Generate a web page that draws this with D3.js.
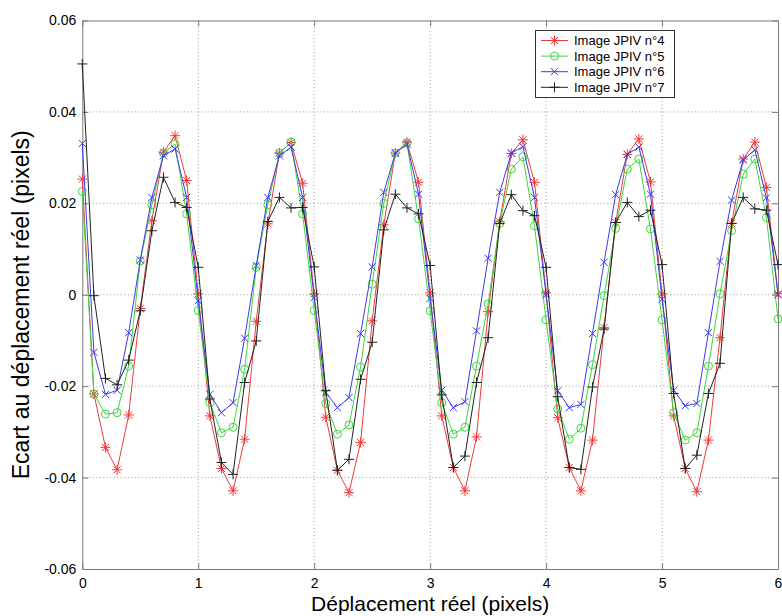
<!DOCTYPE html>
<html>
<head>
<meta charset="utf-8">
<script src="https://cdn.jsdelivr.net/npm/d3@7"></script>
<style>
html,body{margin:0;padding:0;background:#fff;}
svg{display:block;}
text{font-family:"Liberation Sans",Arial,sans-serif;}
</style>
</head>
<body>
<svg id="chart" width="782" height="616"></svg>
<script>
// ---- data ----
const displacement = [0,0.1,0.2,0.3,0.4,0.5,0.6,0.7,0.8,0.9,1,1.1,1.2,1.3,1.4,1.5,1.6,1.7,1.8,1.9,2,2.1,2.2,2.3,2.4,2.5,2.6,2.7,2.8,2.9,3,3.1,3.2,3.3,3.4,3.5,3.6,3.7,3.8,3.9,4,4.1,4.2,4.3,4.4,4.5,4.6,4.7,4.8,4.9,5,5.1,5.2,5.3,5.4,5.5,5.6,5.7,5.8,5.9,6];

const jpiv4 = [0.0253,-0.0217,-0.0334,-0.0383,-0.0263,-0.0030,0.0162,0.0312,0.0348,0.0250,
  0.0002,-0.0265,-0.0380,-0.0429,-0.0316,-0.0058,0.0155,0.0310,0.0333,0.0244,
  0.0002,-0.0268,-0.0384,-0.0433,-0.0323,-0.0057,0.0153,0.0310,0.0334,0.0246,
  0.0004,-0.0265,-0.0378,-0.0429,-0.0311,-0.0037,0.0160,0.0309,0.0339,0.0246,
  0.0004,-0.0269,-0.0378,-0.0429,-0.0318,-0.0072,0.0158,0.0307,0.0341,0.0247,
  0.0002,-0.0265,-0.0380,-0.0431,-0.0318,-0.0094,0.0156,0.0297,0.0334,0.0235,
  0.0002];
const jpiv5 = [0.0226,-0.0217,-0.0261,-0.0258,-0.0156,0.0074,0.0197,0.0310,0.0330,0.0177,
  -0.0034,-0.0236,-0.0302,-0.0290,-0.0163,0.0060,0.0197,0.0310,0.0334,0.0177,
  -0.0034,-0.0238,-0.0305,-0.0285,-0.0158,0.0023,0.0200,0.0310,0.0332,0.0166,
  -0.0035,-0.0236,-0.0305,-0.0290,-0.0156,-0.0020,0.0156,0.0275,0.0302,0.0151,
  -0.0055,-0.0250,-0.0316,-0.0292,-0.0153,-0.0002,0.0145,0.0275,0.0297,0.0144,
  -0.0055,-0.0258,-0.0318,-0.0302,-0.0156,0.0002,0.0140,0.0264,0.0297,0.0169,
  -0.0053];
const jpiv6 = [0.0331,-0.0126,-0.0218,-0.0209,-0.0083,0.0076,0.0213,0.0304,0.0319,0.0213,
  -0.0013,-0.0218,-0.0258,-0.0236,-0.0095,0.0064,0.0213,0.0304,0.0323,0.0213,
  -0.0006,-0.0214,-0.0247,-0.0225,-0.0085,0.0061,0.0224,0.0310,0.0329,0.0220,
  -0.0008,-0.0209,-0.0247,-0.0234,-0.0079,0.0080,0.0224,0.0310,0.0324,0.0213,
  0.0000,-0.0210,-0.0247,-0.0240,-0.0085,0.0071,0.0219,0.0307,0.0323,0.0220,
  -0.0010,-0.0209,-0.0243,-0.0238,-0.0083,0.0073,0.0207,0.0295,0.0317,0.0212,
  0.0000];
const jpiv7 = [0.0505,-0.0002,-0.0183,-0.0197,-0.0143,-0.0035,0.0140,0.0257,0.0202,0.0191,
  0.0060,-0.0228,-0.0367,-0.0393,-0.0192,-0.0101,0.0160,0.0213,0.0190,0.0191,
  0.0061,-0.0210,-0.0384,-0.0360,-0.0185,-0.0104,0.0142,0.0220,0.0190,0.0177,
  0.0064,-0.0219,-0.0378,-0.0353,-0.0192,-0.0094,0.0156,0.0219,0.0184,0.0173,
  0.0060,-0.0223,-0.0378,-0.0382,-0.0202,-0.0075,0.0158,0.0202,0.0171,0.0185,
  0.0066,-0.0216,-0.0380,-0.0351,-0.0216,-0.0150,0.0156,0.0213,0.0188,0.0185,
  0.0066];

const seriesNames = ["Image JPIV n°4","Image JPIV n°5","Image JPIV n°6","Image JPIV n°7"];
const xTicks = [0,1,2,3,4,5,6];
const yTicks = [-0.06,-0.04,-0.02,0,0.02,0.04,0.06];
const yTickLabels = ["-0.06","-0.04","-0.02","0","0.02","0.04","0.06"];
const xTickLabels = ["0","1","2","3","4","5","6"];

// ---- styles ----
const colors = ["#f03a3a","#3ad83a","#3a3af0","#222222"];
const markers = ["star","circle","cross","plus"];
const seriesValues = [jpiv4,jpiv5,jpiv6,jpiv7];

const svg = d3.select("#chart");
const L = 82.3, R = 778, T = 20.5, B = 569;
const x = d3.scaleLinear().domain([0,6]).range([L,R]);
const y = d3.scaleLinear().domain([-0.06,0.06]).range([B,T]);

// grid
const grid = svg.append("g");
grid.selectAll("line.gx").data(xTicks.slice(1,-1)).join("line")
  .attr("x1",d=>x(d)).attr("x2",d=>x(d)).attr("y1",T).attr("y2",B)
  .attr("stroke","#9a9a9a").attr("stroke-width",1).attr("stroke-dasharray","1,2.5");
grid.selectAll("line.gy").data(yTicks.slice(1,-1)).join("line")
  .attr("y1",d=>y(d)).attr("y2",d=>y(d)).attr("x1",L).attr("x2",R)
  .attr("stroke","#9a9a9a").attr("stroke-width",1).attr("stroke-dasharray","1,2.5");

// axes (ticks inward)
const axisCol = "#7a7a7a";
function styleAxis(g){
  g.select(".domain").attr("stroke",axisCol);
  g.selectAll(".tick line").attr("stroke",axisCol);
  g.selectAll(".tick text").attr("fill","#000").style("font-size","14px")
   .style("font-family","'Liberation Sans',Arial,sans-serif");
}
const gx = svg.append("g").attr("transform",`translate(0,${B})`)
  .call(d3.axisBottom(x).tickValues(xTicks).tickFormat((d,i)=>xTickLabels[i]).tickSizeInner(-6).tickSizeOuter(0).tickPadding(9));
styleAxis(gx);
const gy = svg.append("g").attr("transform",`translate(${L},0)`)
  .call(d3.axisLeft(y).tickValues(yTicks).tickFormat((d,i)=>yTickLabels[i]).tickSizeInner(-6).tickSizeOuter(0).tickPadding(6));
styleAxis(gy);
const gxt = svg.append("g").attr("transform",`translate(0,${T})`)
  .call(d3.axisTop(x).tickValues(xTicks).tickFormat("").tickSizeInner(-6).tickSizeOuter(0));
styleAxis(gxt);
const gyr = svg.append("g").attr("transform",`translate(${R},0)`)
  .call(d3.axisRight(y).tickValues(yTicks).tickFormat("").tickSizeInner(-6).tickSizeOuter(0));
styleAxis(gyr);

// marker path generator
function markerPath(type, s){
  const d = s*0.72;
  switch(type){
    case "star": return `M${-s},0L${s},0M0,${-s}L0,${s}M${-d},${-d}L${d},${d}M${-d},${d}L${d},${-d}`;
    case "cross": return `M${-d},${-d}L${d},${d}M${-d},${d}L${d},${-d}`;
    case "plus": return `M${-s},0L${s},0M0,${-s}L0,${s}`;
    default: return "";
  }
}

// series
const plot = svg.append("g");
const line = d3.line().x((d,i)=>x(displacement[i])).y(d=>y(d));
seriesValues.forEach((vals,k)=>{
  const g = plot.append("g");
  g.append("path").datum(vals).attr("d",line).attr("fill","none")
    .attr("stroke",colors[k]).attr("stroke-width",1);
  if(markers[k]==="circle"){
    g.selectAll("circle").data(vals).join("circle")
      .attr("cx",(d,i)=>x(displacement[i])).attr("cy",d=>y(d)).attr("r",4)
      .attr("fill","none").attr("stroke",colors[k]).attr("stroke-width",1);
  } else {
    g.selectAll("path.m").data(vals).join("path").attr("class","m")
      .attr("transform",(d,i)=>`translate(${x(displacement[i])},${y(d)})`)
      .attr("d",markerPath(markers[k],5)).attr("fill","none")
      .attr("stroke",colors[k]).attr("stroke-width",1);
  }
});

// legend
const lg = svg.append("g");
lg.append("rect").attr("x",535.5).attr("y",30.5).attr("width",139).attr("height",67)
  .attr("fill","#fff").attr("stroke","#333").attr("stroke-width",1);
seriesNames.forEach((name,k)=>{
  const yy = 40.5 + k*15.6;
  lg.append("line").attr("x1",541).attr("x2",568).attr("y1",yy).attr("y2",yy)
    .attr("stroke",colors[k]).attr("stroke-width",1);
  if(markers[k]==="circle"){
    lg.append("circle").attr("cx",554.5).attr("cy",yy).attr("r",4)
      .attr("fill","none").attr("stroke",colors[k]);
  } else {
    lg.append("path").attr("transform",`translate(554.5,${yy})`)
      .attr("d",markerPath(markers[k],5)).attr("fill","none").attr("stroke",colors[k]);
  }
  lg.append("text").attr("x",574).attr("y",yy).attr("dy","0.36em")
    .style("font-size","13px").attr("fill","#000").text(name);
});

// axis titles
svg.append("text").attr("x",(L+R)/2).attr("y",611).attr("text-anchor","middle")
  .style("font-size","21px").attr("fill","#000").text("Déplacement réel (pixels)");
svg.append("text").attr("transform",`translate(29,${(T+B)/2 + 10}) rotate(-90)`)
  .attr("text-anchor","middle").style("font-size","23px").attr("fill","#000")
  .text("Ecart au déplacement réel (pixels)");
</script>
</body>
</html>
